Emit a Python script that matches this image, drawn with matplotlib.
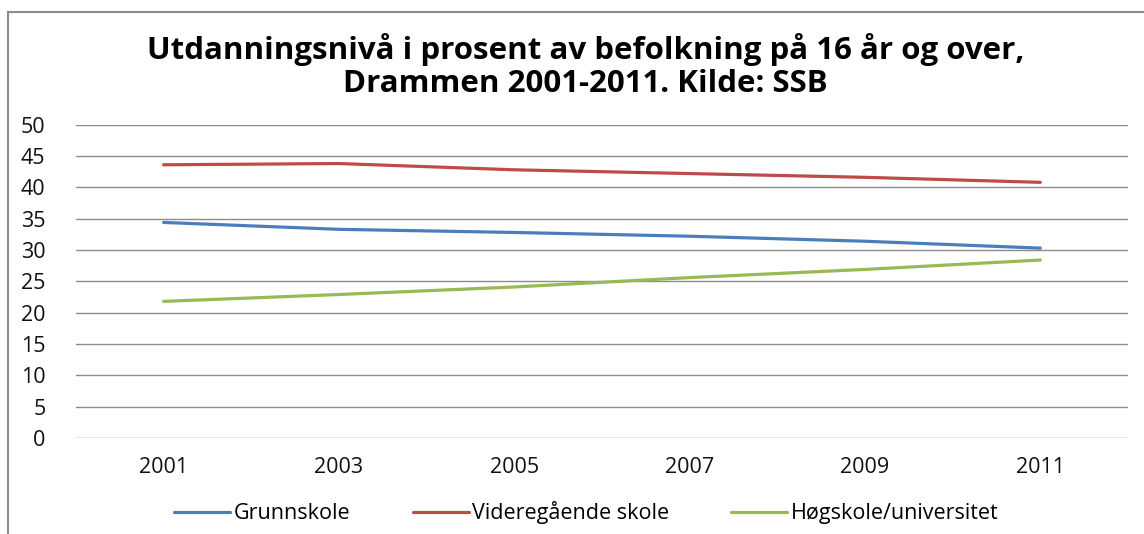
import matplotlib
matplotlib.use("Agg")
from matplotlib import pyplot as plt
from matplotlib.lines import Line2D

years = ["2001", "2003", "2005", "2007", "2009", "2011"]
grunnskole = [34.4, 33.3, 32.8, 32.2, 31.4, 30.3]
videregaende = [43.6, 43.8, 42.8, 42.2, 41.6, 40.8]
hogskole = [21.8, 22.9, 24.1, 25.6, 26.9, 28.4]

series_names = ["Grunnskole", "Videregående skole", "Høgskole/universitet"]
y_ticks = [0, 5, 10, 15, 20, 25, 30, 35, 40, 45, 50]

plt.rcParams['font.family'] = ['Open Sans', 'DejaVu Sans']

fig = plt.figure(figsize=(11.44, 5.34), dpi=100)
ax = fig.add_axes([0.0664, 0.1798, 0.9196, 0.5867])

x = range(len(years))
colors = ['#4A7EBB', '#BE4B48', '#98B954']
for values, name, color in zip([grunnskole, videregaende, hogskole], series_names, colors):
    ax.plot(x, values, color=color, lw=2.3, solid_capstyle='round', label=name)

ax.set_xlim(-0.5, len(years) - 0.5)
ax.set_ylim(0, 50)
ax.set_yticks(y_ticks)
ax.set_xticks(list(x))
ax.set_xticklabels(years)
ax.grid(axis='y', color='#8c8c8c', lw=1)
ax.set_axisbelow(True)
for side in ['top', 'right', 'left', 'bottom']:
    ax.spines[side].set_visible(False)
ax.tick_params(axis='both', length=0, labelsize=15.5, colors='#111111')
ax.tick_params(axis='x', pad=14)
ax.tick_params(axis='y', pad=22)

fig.text(0.512, 0.876, "Utdanningsnivå i prosent av befolkning på 16 år og over,\nDrammen 2001-2011. Kilde: SSB",
         ha='center', va='center', fontsize=22.5, fontweight='bold', linespacing=1.15)

ax.legend(loc='upper center', bbox_to_anchor=(0.485, -0.14), ncol=3, frameon=False,
          fontsize=15.5, handlelength=2.6, handletextpad=0.15, columnspacing=2.9)

# chart border (only top and left edges visible in the crop)
fig.add_artist(Line2D([8 / 1144, 8 / 1144], [0, 1 - 12 / 534], transform=fig.transFigure, color='#8c8c8c', lw=1.5))
fig.add_artist(Line2D([8 / 1144, 1], [1 - 12 / 534, 1 - 12 / 534], transform=fig.transFigure, color='#8c8c8c', lw=1.5))

fig.savefig("out.png", dpi=100)
